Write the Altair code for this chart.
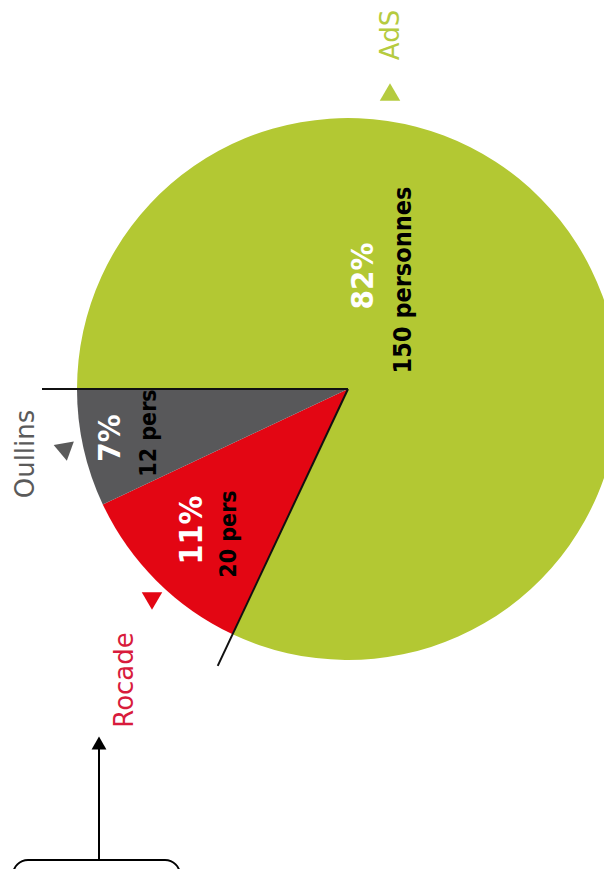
import math
import altair as alt
import pandas as pd

# ---- data ----
categories = ["Rocade", "Oullins", "AdS"]
percents = [11, 7, 82]
persons = [20, 12, 150]
pct_labels = ["11%", "7%", "82%"]
pers_labels = ["20 pers", "12 pers", "150 personnes"]
slice_colors = ["#e30613", "#58585a", "#b3c833"]
label_colors = ["#d81b3c", "#5a5a5a", "#b5cb3f"]

# ---- layout (page px, minus 8px page margin) ----
M = 8
CX, CY = 348 - M, 389 - M
R = 271
R_LINE = 306
# Oullins slice ends exactly at 9 o'clock (270 deg)
A0_DEG = 270 - (percents[0] + percents[1]) * 3.6
A0 = math.radians(A0_DEG)

pie_df = pd.DataFrame({
    "cat": categories,
    "pct": percents,
    "ord": list(range(len(categories))),
})

pie = alt.Chart(pie_df).mark_arc(radius=R, stroke=None).encode(
    theta=alt.Theta("pct:Q", stack=True,
                    scale=alt.Scale(domain=[0, 100], range=[A0, A0 + 2 * math.pi])),
    color=alt.Color("cat:N", scale=alt.Scale(domain=categories, range=slice_colors), legend=None),
    order=alt.Order("ord:Q", sort="ascending"),
    x=alt.value(CX),
    y=alt.value(CY),
)

# boundary lines at the start of Rocade and end of Oullins
bound_df = pd.DataFrame({"cum": [0, percents[0] + percents[1]]})
lines = alt.Chart(bound_df).transform_calculate(
    ang=f"{A0} + datum.cum / 100 * 2 * PI",
).transform_calculate(
    px=f"{CX} + {R_LINE} * sin(datum.ang)",
    py=f"{CY} - {R_LINE} * cos(datum.ang)",
).mark_rule(color="#111111", strokeWidth=2).encode(
    x=alt.X("px:Q", scale=None, axis=None),
    y=alt.Y("py:Q", scale=None, axis=None),
    x2=alt.value(CX),
    y2=alt.value(CY),
)

def text_layer(txt, x, y, size, color, weight="bold", font="DejaVu Sans Condensed"):
    return alt.Chart(pd.DataFrame({"t": [txt]})).mark_text(
        angle=270, align="center", baseline="middle",
        fontSize=size, fontWeight=weight, font=font, color=color,
    ).encode(text="t:N", x=alt.value(x - M), y=alt.value(y - M))

def tri_layer(x, y, ang, color, size=420):
    return alt.Chart(pd.DataFrame({"a": [0]})).mark_point(
        shape="triangle-up", filled=True, size=size, angle=ang, color=color, opacity=1,
    ).encode(x=alt.value(x - M), y=alt.value(y - M))

texts = [
    text_layer(pct_labels[2], 364, 276, 31, "white"),
    text_layer(pers_labels[2], 403, 280, 25, "black"),
    text_layer(pct_labels[1], 111, 438, 31, "white"),
    text_layer(pers_labels[1], 149, 433, 23, "black"),
    text_layer(pct_labels[0], 192, 530, 32, "white"),
    text_layer(pers_labels[0], 229, 534, 23, "black"),
    text_layer(categories[2], 391, 35, 26, label_colors[2], weight="normal", font="DejaVu Sans"),
    text_layer(categories[1], 26, 454, 26, label_colors[1], weight="normal", font="DejaVu Sans"),
    text_layer(categories[0], 125, 680, 26, label_colors[0], weight="normal", font="DejaVu Sans"),
]

tris = [
    tri_layer(390, 92, 0, label_colors[2]),
    tri_layer(62, 448, 290, label_colors[1]),
    tri_layer(152, 601, 180, "#e30613"),
]

# bottom annotation: arrow and rounded box
arrow_line = alt.Chart(pd.DataFrame({"a": [0]})).mark_rule(color="black", strokeWidth=2).encode(
    x=alt.value(99 - M), y=alt.value(748 - M), y2=alt.value(860 - M)
)
arrow_head = tri_layer(99, 743, 0, "black", size=220)
box = alt.Chart(pd.DataFrame({"a": [0]})).mark_rect(
    cornerRadius=15, fill="white", fillOpacity=0, stroke="black", strokeWidth=2
).encode(
    x=alt.value(13 - M), x2=alt.value(180 - M), y=alt.value(860 - M), y2=alt.value(940 - M)
)

chart = alt.layer(pie, lines, *texts, *tris, arrow_line, arrow_head, box).properties(
    width=596, height=861, padding=0,
    autosize=alt.AutoSizeParams(type="none"),
    background="white",
).configure_view(stroke=None)

chart.save("out.html", embed_options={"renderer": "svg", "actions": False})
